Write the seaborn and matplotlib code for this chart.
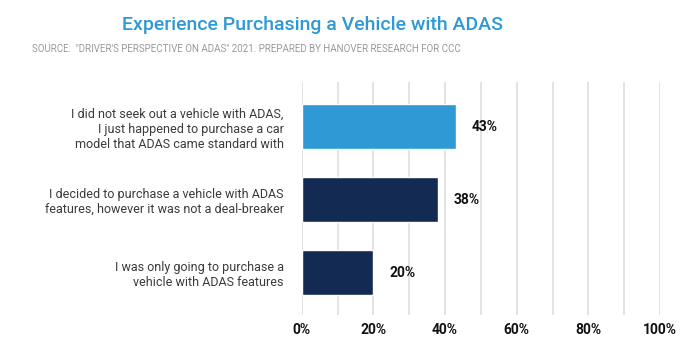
import pandas as pd
import seaborn as sns
import matplotlib.pyplot as plt

responses = [
    "I did not seek out a vehicle with ADAS,\nI just happened to purchase a car\nmodel that ADAS came standard with",
    "I decided to purchase a vehicle with ADAS\nfeatures, however it was not a deal-breaker",
    "I was only going to purchase a\nvehicle with ADAS features",
]
shares = [43, 38, 20]
bar_colors = ["#2E99D5", "#132B53", "#132B53"]
x_ticks = [0, 20, 40, 60, 80, 100]

title = "Experience Purchasing a Vehicle with ADAS"
source = 'SOURCE:  "DRIVER\'S PERSPECTIVE ON ADAS" 2021. PREPARED BY HANOVER RESEARCH FOR CCC'


def main():
    sns.set_style("white")
    plt.rcParams['font.family'] = ['Roboto', 'DejaVu Sans']

    df = pd.DataFrame({"response": responses, "share": shares})

    fig = plt.figure(figsize=(7, 3.58), dpi=100)
    ax = fig.add_axes([0.431, 0.12, 0.512, 0.651])

    for x in range(0, 101, 10):
        ax.axvline(x, color="#E3E3E3", lw=1.4, zorder=0)

    sns.barplot(data=df, x="share", y="response", hue="response",
                palette=bar_colors, legend=False, width=0.62,
                ax=ax, zorder=2, saturation=1)

    for i, v in enumerate(shares):
        ax.text(v + 4.5, i, f"{v}%", va="center", ha="left",
                fontsize=10, fontweight="bold", color="#111111")

    ax.set_xlim(0, 100)
    ax.set_ylim(2.58, -0.61)
    ax.set_xticks(x_ticks)
    ax.set_xticklabels([f"{t}%" for t in x_ticks], fontsize=10,
                       fontweight="bold", color="#111111")
    ax.tick_params(axis="x", length=0, pad=6)
    ax.tick_params(axis="y", length=0, pad=13)
    for lbl in ax.get_yticklabels():
        lbl.set_fontsize(9)
        lbl.set_color("#3A3A3A")
        lbl.set_linespacing(1.2)
    ax.set_xlabel("")
    ax.set_ylabel("")
    for s in ax.spines.values():
        s.set_visible(False)

    fig.text(0.447, 0.93, title, ha="center", va="center",
             fontsize=14, fontweight="medium", color="#2E99D5")
    fig.text(0.046, 0.862, source, ha="left", va="center",
             fontsize=7, color="#9A9A9A")

    fig.savefig("out.png", dpi=100, facecolor="white")
    plt.close(fig)


if __name__ == '__main__':
    main()
